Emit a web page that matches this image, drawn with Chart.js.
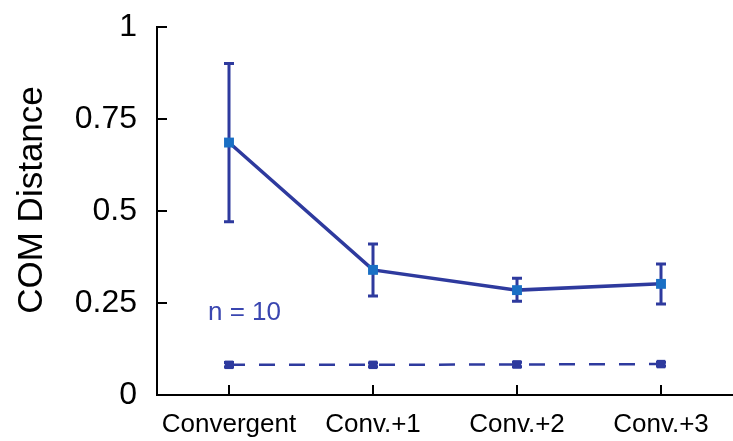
<!DOCTYPE html>
<html>
<head>
<meta charset="utf-8">
<script src="https://cdn.jsdelivr.net/npm/chart.js@4.4.1/dist/chart.umd.min.js"></script>
<style>
  html, body { margin: 0; padding: 0; background: #fff; }
  #wrap { width: 733px; height: 441px; position: relative; }
</style>
</head>
<body>
<div id="wrap"><canvas id="comChart"></canvas></div>
<script>
// datos
const categories = ['Convergent', 'Conv.+1', 'Conv.+2', 'Conv.+3'];
const comMean = [0.686, 0.340, 0.285, 0.302];
const comErrHigh = [0.901, 0.410, 0.317, 0.356];
const comErrLow = [0.471, 0.269, 0.255, 0.247];
const baseMean = [0.082, 0.082, 0.083, 0.084];
const baseErr = [0.006, 0.005, 0.006, 0.005];
const yTicks = [0, 0.25, 0.5, 0.75, 1];

const lineColor = '#2e3a9e';
const markerColor = '#1a6fc4';
const fontFamily = '"Liberation Sans", Arial, sans-serif';

// barras de error, dibujadas con las escalas del grafico
const errorBars = {
    id: 'errorBars',
    beforeDatasetsDraw(chart) {
        const c = chart.ctx;
        const x = chart.scales.x;
        const y = chart.scales.y;
        c.save();
        c.setLineDash([]);
        c.strokeStyle = lineColor;
        c.lineWidth = 3;
        const cap = 5;
        categories.forEach((cat, i) => {
            const px = x.getPixelForValue(i);
            const pairs = [
                [comErrHigh[i], comErrLow[i]],
                [baseMean[i] + baseErr[i], baseMean[i] - baseErr[i]]
            ];
            pairs.forEach(([hi, lo]) => {
                const yHi = y.getPixelForValue(hi);
                const yLo = y.getPixelForValue(lo);
                c.beginPath();
                c.moveTo(px, yHi);
                c.lineTo(px, yLo);
                c.moveTo(px - cap, yHi);
                c.lineTo(px + cap, yHi);
                c.moveTo(px - cap, yLo);
                c.lineTo(px + cap, yLo);
                c.stroke();
            });
        });
        c.restore();
    }
};

// marcas de los ejes hacia dentro y textos sueltos
const axisExtras = {
    id: 'axisExtras',
    afterDraw(chart) {
        const c = chart.ctx;
        const area = chart.chartArea;
        const x = chart.scales.x;
        const y = chart.scales.y;
        c.save();
        c.setLineDash([]);
        c.strokeStyle = '#000000';
        c.lineWidth = 2;
        for (let i = 0; i < categories.length; i++) {
            const px = x.getPixelForValue(i);
            c.beginPath();
            c.moveTo(px, area.bottom);
            c.lineTo(px, area.bottom - 10);
            c.stroke();
        }
        for (const v of yTicks) {
            const py = y.getPixelForValue(v);
            c.beginPath();
            c.moveTo(area.left, py);
            c.lineTo(area.left + 10, py);
            c.stroke();
        }
        c.restore();

        c.save();
        c.fillStyle = '#3a46b0';
        c.font = '26px ' + fontFamily;
        c.textAlign = 'left';
        c.textBaseline = 'middle';
        c.fillText('n = 10', 208, 313);
        c.restore();

        c.save();
        c.fillStyle = '#000000';
        c.font = '35px ' + fontFamily;
        c.textAlign = 'center';
        c.textBaseline = 'alphabetic';
        c.translate(42, 200);
        c.rotate(-Math.PI / 2);
        c.fillText('COM Distance', 0, 0);
        c.restore();
    }
};

const ctx = document.getElementById('comChart').getContext('2d');
const chart = new Chart(ctx, {
    type: 'line',
    data: {
        labels: categories,
        datasets: [{
            label: 'COM',
            data: comMean,
            borderColor: lineColor,
            borderWidth: 3.5,
            pointStyle: 'rect',
            pointRadius: 7,
            pointBackgroundColor: markerColor,
            pointBorderWidth: 0,
            tension: 0
        }, {
            label: 'Base',
            data: baseMean,
            borderColor: lineColor,
            borderWidth: 2.5,
            borderDash: [16, 14],
            pointStyle: 'rect',
            pointRadius: 6,
            pointBackgroundColor: lineColor,
            pointBorderWidth: 0,
            tension: 0
        }]
    },
    options: {
        responsive: true,
        maintainAspectRatio: false,
        animation: false,
        layout: { autoPadding: false, padding: { top: 27, left: 0, right: 0, bottom: 0 } },
        plugins: {
            legend: { display: false },
            tooltip: { enabled: false }
        },
        scales: {
            x: {
                type: 'category',
                offset: true,
                grid: { display: false, drawTicks: false },
                border: { display: true, color: '#000', width: 2 },
                ticks: {
                    color: '#000',
                    padding: 14,
                    maxRotation: 0,
                    font: { family: fontFamily, size: 26 }
                },
                afterFit: s => { s.height = 46; s.paddingLeft = 0; s.paddingRight = 0; }
            },
            y: {
                min: 0,
                max: 1,
                grid: { display: false, drawTicks: false },
                border: { display: true, color: '#000', width: 2 },
                afterBuildTicks: s => { s.ticks = yTicks.map(v => ({ value: v })); },
                ticks: {
                    color: '#000',
                    padding: 20,
                    callback: v => String(v),
                    font: { family: fontFamily, size: 32 }
                },
                afterFit: s => { s.width = 157; s.paddingTop = 0; s.paddingBottom = 0; }
            }
        }
    },
    plugins: [errorBars, axisExtras]
});
</script>
</body>
</html>
